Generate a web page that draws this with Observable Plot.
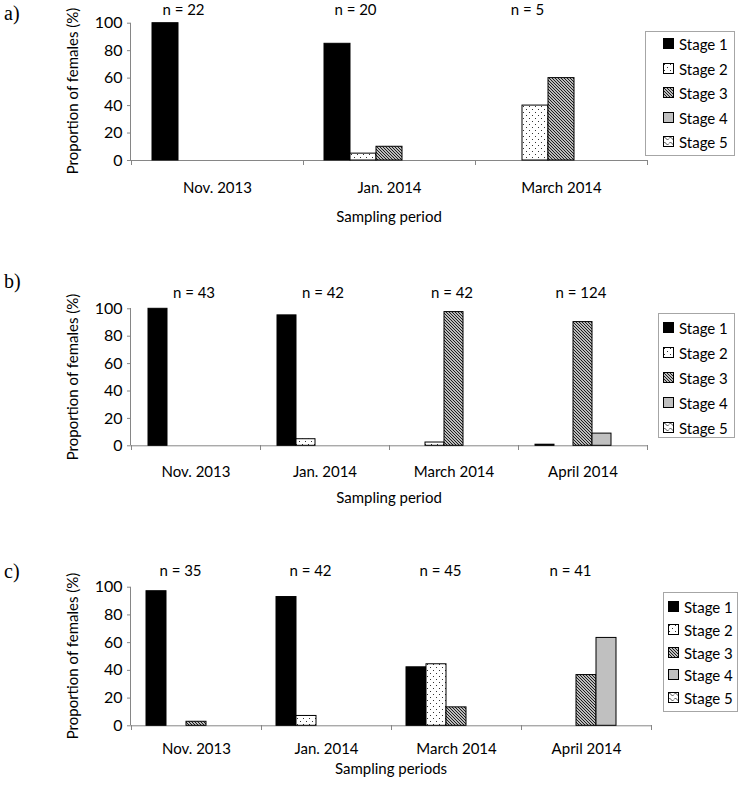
<!DOCTYPE html>
<html><head><meta charset="utf-8">
<script src="https://cdn.jsdelivr.net/npm/d3@7"></script>
<script src="https://cdn.jsdelivr.net/npm/@observablehq/plot@0.6"></script>
<style>
body{margin:0;background:#fff;}
#root{position:relative;width:740px;height:793px;font-family:Lato,"Open Sans",sans-serif;color:#000;overflow:hidden;background:#fff;}
.abs{position:absolute;white-space:nowrap;}
.plab{font-family:"Liberation Serif","DejaVu Serif",serif;font-size:20px;transform:translateY(-50%);}
.xt{font-size:15px;transform:translate(-50%,-50%);}
.yt{font-size:15px;transform:translate(-50%,-50%) rotate(-90deg);}
.legend{border:1px solid #a6a6a6;background:#fff;box-sizing:border-box;}
.li{font-size:15px;line-height:18px;transform:translateY(-50%);}
</style></head>
<body><div id="root">
<svg width="0" height="0" style="position:absolute">
<defs>
<pattern id="pDots" width="6" height="6" patternUnits="userSpaceOnUse">
<rect width="6" height="6" fill="#fff"/><rect x="1" y="1" width="1" height="1" fill="#333"/><rect x="4" y="4" width="1" height="1" fill="#333"/>
</pattern>
<pattern id="pDiag" width="3" height="3" patternUnits="userSpaceOnUse">
<rect width="3" height="3" fill="#fff"/><path d="M-1,-1L4,4M-1,2L1,4M2,-1L4,1" stroke="#111" stroke-width="1.1"/>
</pattern>
<pattern id="pWave" width="6" height="5" patternUnits="userSpaceOnUse">
<rect width="6" height="5" fill="#fff"/><path d="M0,2.5L1.5,1L4.5,4L6,2.5" stroke="#222" fill="none" stroke-width="0.8"/>
</pattern>
</defs></svg>
</div>
<script>
const stages = ["Stage 1","Stage 2","Stage 3","Stage 4","Stage 5"];
const yTicks = [0,20,40,60,80,100];
const yTitle = "Proportion of females (%)";

const periodsA = ["Nov. 2013","Jan. 2014","March 2014"];
const nA = ["n = 22","n = 20","n = 5"];
const a_stage1 = [100, 85, 0];
const a_stage2 = [0, 5, 40];
const a_stage3 = [0, 10, 60];
const a_stage4 = [0, 0, 0];
const a_stage5 = [0, 0, 0];

const periodsB = ["Nov. 2013","Jan. 2014","March 2014","April 2014"];
const nB = ["n = 43","n = 42","n = 42","n = 124"];
const b_stage1 = [100, 95.2, 0, 0.8];
const b_stage2 = [0, 4.8, 2.4, 0];
const b_stage3 = [0, 0, 97.6, 90.3];
const b_stage4 = [0, 0, 0, 8.9];
const b_stage5 = [0, 0, 0, 0];

const periodsC = ["Nov. 2013","Jan. 2014","March 2014","April 2014"];
const nC = ["n = 35","n = 42","n = 45","n = 41"];
const c_stage1 = [97.1, 92.9, 42.2, 0];
const c_stage2 = [0, 7.1, 44.4, 0];
const c_stage3 = [2.9, 0, 13.3, 36.6];
const c_stage4 = [0, 0, 0, 63.4];
const c_stage5 = [0, 0, 0, 0];

const xTitles = ["Sampling period","Sampling period","Sampling periods"];
const panelLabels = ["a)","b)","c)"];

const fills = ["#000","url(#pDots)","url(#pDiag)","#c0c0c0","url(#pWave)"];
const root = document.getElementById("root");

function rowsOf(periods, series){
  const rows = [];
  periods.forEach((p,i) => stages.forEach((s,j) => { const v = series[j][i]; if (v > 0) rows.push({period:p, stage:s, value:v}); }));
  return rows;
}

function div(cls, text, left, top){
  const d = document.createElement("div");
  d.className = "abs " + cls; d.textContent = text;
  d.style.left = left + "px"; d.style.top = top + "px";
  root.appendChild(d); return d;
}

function panel(cfg){
  const rows = rowsOf(cfg.periods, cfg.series);
  const nRows = cfg.periods.map((p,i) => ({period:p, label:cfg.n[i]}));
  const plot = Plot.plot({
    width: 740, height: cfg.height,
    marginLeft: 130, marginRight: cfg.mr, marginTop: cfg.mt, marginBottom: cfg.mb,
    style: {fontFamily: "Lato,'Open Sans',sans-serif", fontSize: "15px", color: "#000", background: "transparent", overflow: "visible"},
    fx: {domain: cfg.periods, padding: 0, axis: "bottom", label: null, tickSize: 0, tickPadding: cfg.tp},
    x: {domain: stages, paddingInner: 0, paddingOuter: cfg.po, axis: null},
    y: {domain: [0,100]},
    color: {type: "ordinal", domain: stages, range: fills},
    marks: [
      Plot.axisY({ticks: yTicks, tickSize: 4, tickPadding: 5, stroke: "#868686", fill: "#000", label: null, fontSize: 16}),
      Plot.ruleY([0], {stroke: "#868686"}),
      Plot.barY(rows, {fx: "period", x: "stage", y: "value", fill: "stage", stroke: "#000", strokeWidth: 1}),
      Plot.text(nRows, {fx: "period", text: "label", frameAnchor: "top", dy: cfg.ndy, dx: cfg.ndx, lineAnchor: "middle", fontSize: 15})
    ]
  });
  plot.style.position = "absolute"; plot.style.left = "0px"; plot.style.top = cfg.top + "px";
  root.appendChild(plot);
  const svg = d3.select(plot);
  const ys = plot.scale("y"), fxs = plot.scale("fx");
  const y0 = ys.apply(0), y100 = ys.apply(100);
  const xs = cfg.periods.map(p => fxs.apply(p));
  xs.push(xs[xs.length-1] + fxs.bandwidth);
  const g = svg.append("g").attr("stroke", "#868686").attr("shape-rendering", "crispEdges");
  g.append("line").attr("x1", 130).attr("x2", 130).attr("y1", y100).attr("y2", y0);
  xs.forEach(x => g.append("line").attr("x1", x).attr("x2", x).attr("y1", y0).attr("y2", y0 + 5));

  div("yt", yTitle, 72, cfg.top + (y0 + y100) / 2);
  div("xt", cfg.xTitle, (130 + 740 - cfg.mr) / 2, cfg.xTitleY);
  div("plab", cfg.label, 4, cfg.labelY);

  const L = cfg.legend;
  const box = div("legend", "", L.left, L.top);
  box.style.width = (L.right - L.left) + "px"; box.style.height = (L.bottom - L.top) + "px";
  stages.forEach((s,i) => {
    const cy = L.first + i * L.gap;
    const sw = document.createElementNS("http://www.w3.org/2000/svg", "svg");
    sw.setAttribute("width", 12); sw.setAttribute("height", 12);
    sw.style.position = "absolute"; sw.style.left = L.sx + "px"; sw.style.top = (cy - 6) + "px";
    const r = document.createElementNS("http://www.w3.org/2000/svg", "rect");
    r.setAttribute("x", 0.5); r.setAttribute("y", 0.5); r.setAttribute("width", 10); r.setAttribute("height", 10);
    r.setAttribute("fill", fills[i]); r.setAttribute("stroke", "#000"); r.setAttribute("stroke-width", 1);
    sw.appendChild(r); root.appendChild(sw);
    div("li", s, L.tx, cy);
  });
}

panel({periods: periodsA, series: [a_stage1,a_stage2,a_stage3,a_stage4,a_stage5], n: nA,
  top: 0, height: 230, mt: 22.7, mb: 70, mr: 92, po: 0.705, ndx: -34, ndy: -13, tp: 22,
  xTitle: xTitles[0], xTitleY: 216, label: panelLabels[0], labelY: 13,
  legend: {left: 645, top: 31, right: 735, bottom: 156, first: 44, gap: 24.6, sx: 663, tx: 679}});
panel({periods: periodsB, series: [b_stage1,b_stage2,b_stage3,b_stage4,b_stage5], n: nB,
  top: 230, height: 280, mt: 78.3, mb: 64.7, mr: 92, po: 0.8, ndx: -2, ndy: -16, tp: 21,
  xTitle: xTitles[1], xTitleY: 497, label: panelLabels[1], labelY: 281,
  legend: {left: 658, top: 313, right: 735, bottom: 438, first: 328, gap: 25, sx: 663, tx: 679}});
panel({periods: periodsC, series: [c_stage1,c_stage2,c_stage3,c_stage4,c_stage5], n: nC,
  top: 510, height: 283, mt: 76.7, mb: 67.7, mr: 88, po: 0.75, ndx: -16, ndy: -16, tp: 18,
  xTitle: xTitles[2], xTitleY: 768, label: panelLabels[2], labelY: 571,
  legend: {left: 663, top: 592, right: 738, bottom: 712, first: 607, gap: 22.8, sx: 668, tx: 684}});
</script>
</body></html>
